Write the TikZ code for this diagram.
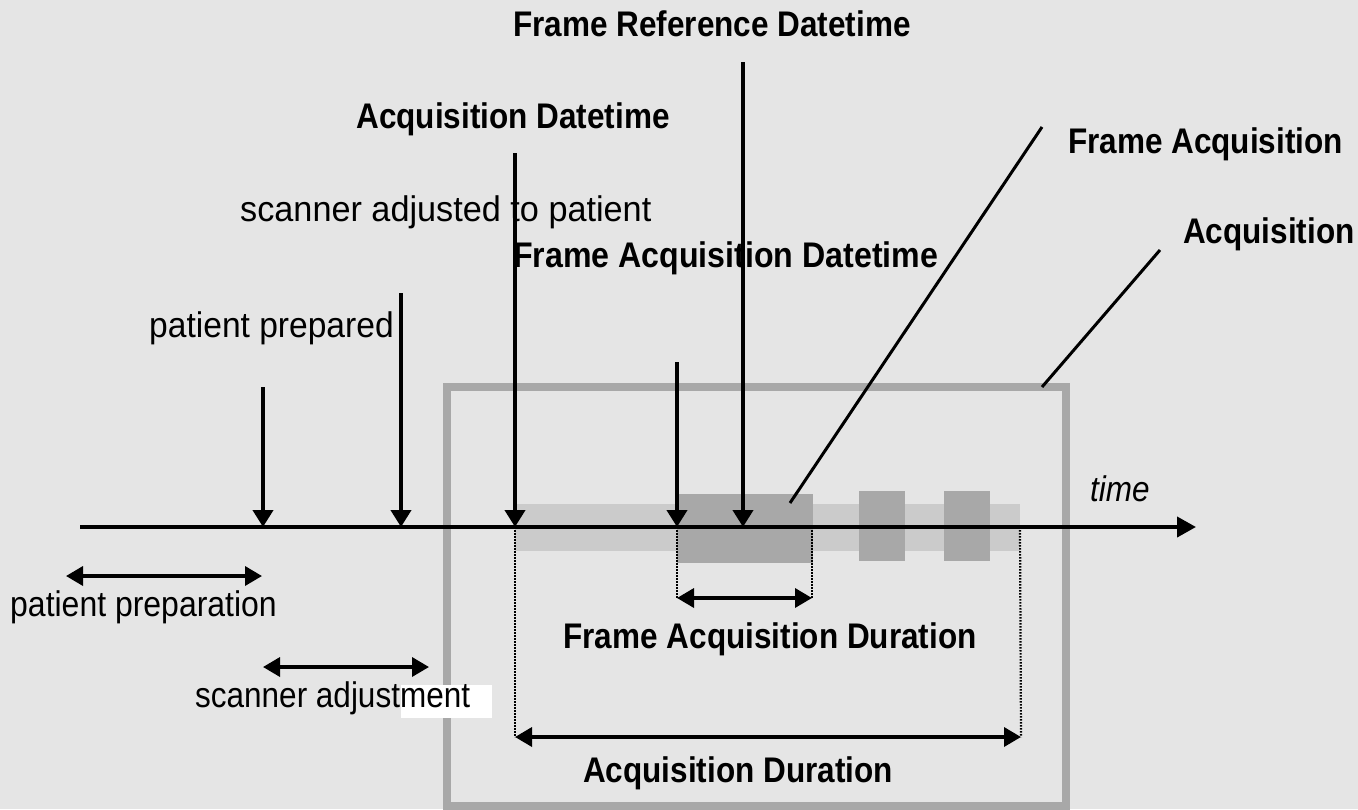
\documentclass[tikz,border=0pt]{standalone}
\usepackage{graphicx}
\usepackage{fontspec}
\setmainfont{Liberation Sans}
\usetikzlibrary{arrows.meta}
\definecolor{bgc}{RGB}{229,229,229}
\definecolor{barlight}{RGB}{203,203,203}
\definecolor{bardark}{RGB}{168,168,168}
\newcommand{\tallt}[2][1]{\scalebox{#1}[1.13]{#2}}
\tikzset{
  lbl/.style={inner sep=0pt, font=\fontsize{31.5}{36}\selectfont},
  blbl/.style={lbl, font=\fontsize{31.5}{36}\selectfont\bfseries},
  downarrow/.style={line width=4pt, -{Triangle[width=20pt,length=17pt]}},
  timearrow/.style={line width=4pt, -{Triangle[width=20pt,length=19pt]}},
  span/.style={line width=3.5pt, {Triangle[width=19pt,length=17pt]}-{Triangle[width=19pt,length=17pt]}},
  leader/.style={line width=3pt},
  dots/.style={line width=2.2pt, dash pattern=on 1.6pt off 1.4pt},
}
\begin{document}
\begin{tikzpicture}[x=1pt,y=-1pt]
% background
\fill[bgc] (0,0) rectangle (1358,809);
\useasboundingbox (0,0) rectangle (1358,809);
% bars
\fill[barlight] (515,504) rectangle (1020,551);
\fill[bardark] (677,494) rectangle (813,563);
\fill[bardark] (859,491) rectangle (905,561);
\fill[bardark] (944,491) rectangle (990,561);
% acquisition box
\draw[bardark, line width=8pt] (447,387) rectangle (1066,806);
% coordinates
\coordinate (t0) at (80,527);
\coordinate (t1) at (1196,527);
\coordinate (pp) at (263,527);   \coordinate (pptop) at (263,387);
\coordinate (sa) at (401,527);   \coordinate (satop) at (401,293);
\coordinate (ad) at (515,527);   \coordinate (adtop) at (515,153);
\coordinate (fad) at (677,527);  \coordinate (fadtop) at (677,362);
\coordinate (frd) at (743,527);  \coordinate (frdtop) at (743,62);
\coordinate (fe) at (812,527);
\coordinate (ae) at (1020,527);
\coordinate (fap) at (790,503);  \coordinate (fapt) at (1042,127);
\coordinate (acp) at (1042,387); \coordinate (acpt) at (1160,250);
% dotted extension lines
\coordinate (adbot) at (515,737); \coordinate (aebot) at (1021,737);
\coordinate (fadbot) at (677,598); \coordinate (febot) at (812,598);
\draw[dots] (ad) -- (adbot);
\draw[dots] (ae) -- (aebot);
\draw[dots] (fad) -- (fadbot);
\draw[dots] (fe) -- (febot);
% timeline
\draw[timearrow] (t0) -- (t1);
% event arrows
\draw[downarrow] (pptop) -- (pp);
\draw[downarrow] (satop) -- (sa);
\draw[downarrow] (adtop) -- (ad);
\draw[downarrow] (fadtop) -- (fad);
\draw[downarrow] (frdtop) -- (frd);
% leaders
\draw[leader] (fap) -- (fapt);
\draw[leader] (acp) -- (acpt);
% spans
\coordinate (ppa) at (66,576);  \coordinate (ppb) at (262,576);
\coordinate (saa) at (263,667); \coordinate (sab) at (429,667);
\draw[span] (ppa) -- (ppb);
\draw[span] (saa) -- (sab);
\draw[span] (fadbot) -- (febot);
\draw[span] (adbot) -- (aebot);
% white patch
\fill[white] (401,685) rectangle (492,718);
% labels
\node[blbl, anchor=base] (tfrd) at (712,36) {\tallt{Frame Reference Datetime}};
\node[blbl, anchor=base] (tad) at (513,128) {\tallt{Acquisition Datetime}};
\node[lbl, anchor=base west] (tsa) at (240,221) {\tallt[1.087]{scanner adjusted to patient}};
\node[blbl, anchor=base west] (tfad) at (513,267) {\tallt[1.02]{Frame Acquisition Datetime}};
\node[lbl, anchor=base west] (tpp) at (149,337) {\tallt[1.066]{patient prepared}};
\node[blbl, anchor=base west] (tfa) at (1068,153) {\tallt{Frame Acquisition}};
\node[blbl, anchor=base west] (tac) at (1183,243) {\tallt{Acquisition}};
\node[lbl, anchor=base west, font=\fontsize{31.5}{36}\selectfont\itshape] (ttime) at (1090,501) {\tallt{time}};
\node[lbl, anchor=base west] (tppn) at (10,616) {\tallt[1.015]{patient preparation}};
\node[blbl, anchor=base] (tfadur) at (770,648) {\tallt{Frame Acquisition Duration}};
\node[lbl, anchor=base west] (tsadj) at (195,707) {\tallt{scanner adjustment}};
\node[blbl, anchor=base] (tadur) at (738,782) {\tallt{Acquisition Duration}};
\end{tikzpicture}
\end{document}
